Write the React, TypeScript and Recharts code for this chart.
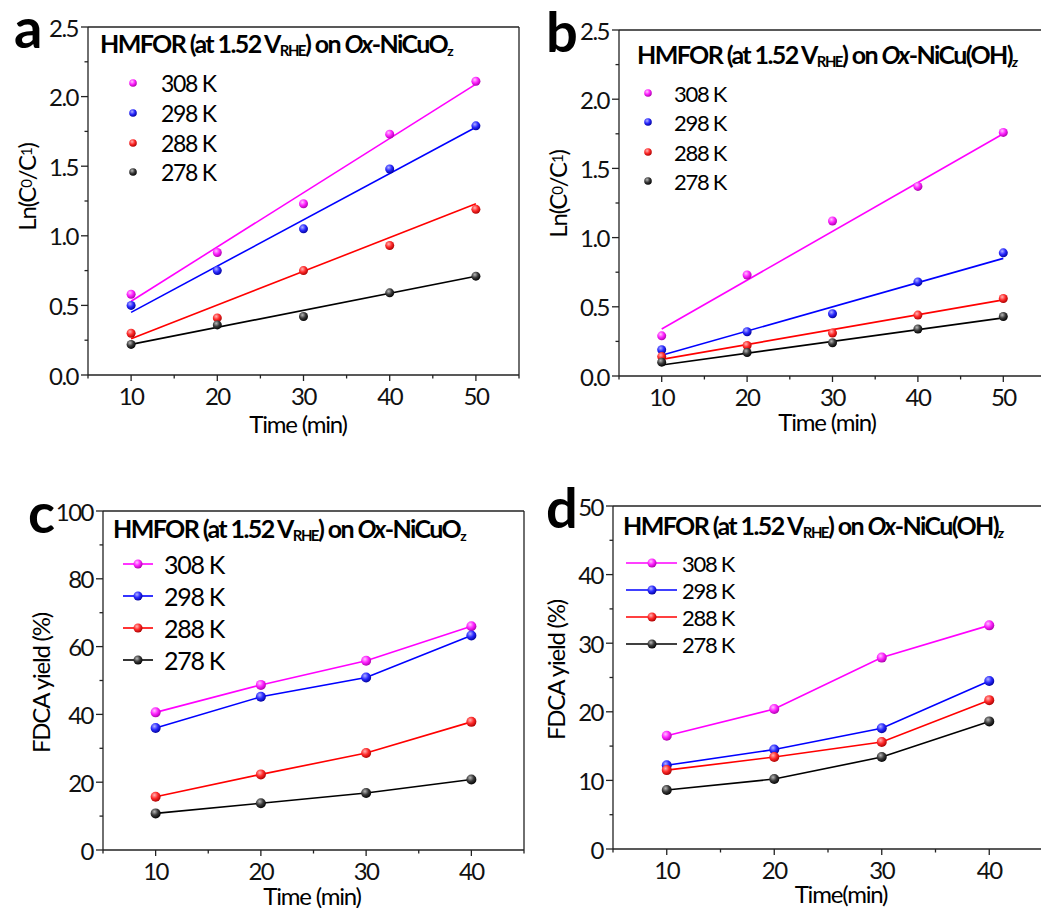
import React from 'react';
import { ComposedChart, Line, Scatter, XAxis, YAxis, ReferenceLine } from 'recharts';

// ---- data ----
const temps = ['308 K', '298 K', '288 K', '278 K'];

// a: ln(C0/C1) on Ox-NiCuOz
const timeAB = [10, 20, 30, 40, 50];
const lnA308 = [0.58, 0.88, 1.23, 1.73, 2.11];
const lnA298 = [0.5, 0.75, 1.05, 1.48, 1.79];
const lnA288 = [0.3, 0.41, 0.75, 0.93, 1.19];
const lnA278 = [0.22, 0.36, 0.42, 0.59, 0.71];
// fitted lines, value at t = 10 and t = 50
const fitEnds = [10, 50];
const fitA308 = [0.53, 2.09];
const fitA298 = [0.45, 1.78];
const fitA288 = [0.26, 1.23];
const fitA278 = [0.22, 0.71];

// b: ln(C0/C1) on Ox-NiCu(OH)z
const lnB308 = [0.29, 0.73, 1.12, 1.37, 1.76];
const lnB298 = [0.19, 0.32, 0.45, 0.68, 0.89];
const lnB288 = [0.14, 0.22, 0.31, 0.44, 0.56];
const lnB278 = [0.1, 0.17, 0.24, 0.34, 0.43];
const fitB308 = [0.34, 1.75];
const fitB298 = [0.15, 0.85];
const fitB288 = [0.12, 0.55];
const fitB278 = [0.08, 0.42];

// c, d: FDCA yield (%)
const timeCD = [10, 20, 30, 40];
const yieldC308 = [40.6, 48.7, 55.8, 66.0];
const yieldC298 = [36.0, 45.2, 50.9, 63.3];
const yieldC288 = [15.7, 22.3, 28.6, 37.8];
const yieldC278 = [10.8, 13.8, 16.8, 20.8];
const yieldD308 = [16.5, 20.4, 27.9, 32.6];
const yieldD298 = [12.2, 14.5, 17.6, 24.5];
const yieldD288 = [11.5, 13.4, 15.6, 21.7];
const yieldD278 = [8.6, 10.2, 13.4, 18.6];

// ticks
const xTicksAB = [5, 10, 15, 20, 25, 30, 35, 40, 45, 50, 55];
const xTicksCD = [5, 10, 15, 20, 25, 30, 35, 40, 45];
const xLabelsAB = [10, 20, 30, 40, 50];
const xLabelsCD = [10, 20, 30, 40];
const yTicksAB = [0, 0.25, 0.5, 0.75, 1, 1.25, 1.5, 1.75, 2, 2.25, 2.5];
const yLabelsAB = [0, 0.5, 1, 1.5, 2, 2.5];
const yTicksC = [0, 10, 20, 30, 40, 50, 60, 70, 80, 90, 100];
const yLabelsC = [0, 20, 40, 60, 80, 100];
const yTicksD = [0, 5, 10, 15, 20, 25, 30, 35, 40, 45, 50];
const yLabelsD = [0, 10, 20, 30, 40, 50];

// ---- styling ----
const FONT = 'Lato, "Open Sans", sans-serif';
const AXIS = '#222';
const COLORS = ['#ff00ff', '#0000ff', '#ff0000', '#000000'];
const SHADES: Record<string, [string, string, string]> = {
  '#ff00ff': ['#ffc4ff', '#ff22ff', '#a800a8'],
  '#0000ff': ['#b0b0ff', '#2a2aff', '#00009a'],
  '#ff0000': ['#ffb4b4', '#ff2a2a', '#a80000'],
  '#000000': ['#b8b8b8', '#3a3a3a', '#000000'],
};

const toPts = (xs: number[], ys: number[]) => xs.map((x, i) => ({ x, y: ys[i] }));

const Ball = ({ cx, cy, r, color }: { cx: number; cy: number; r: number; color: string }) => {
  const id = 'ball' + color.slice(1);
  const [hi, mid, dark] = SHADES[color];
  return (
    <g>
      <defs>
        <radialGradient id={id} cx="0.38" cy="0.33" r="0.7">
          <stop offset="0" stopColor={hi} />
          <stop offset="0.5" stopColor={mid} />
          <stop offset="1" stopColor={dark} />
        </radialGradient>
      </defs>
      <circle cx={cx} cy={cy} r={r} fill={`url(#${id})`} />
    </g>
  );
};

const makeXTick = (labels: number[]) => (props: any) => {
  const { x, y, payload } = props;
  const major = labels.includes(payload.value);
  return (
    <g>
      <line x1={x} x2={x} y1={y} y2={y + (major ? 6 : 3.5)} stroke={AXIS} strokeWidth={1.3} />
      {major && (
        <text x={x} y={y + 20} textAnchor="middle" dominantBaseline="central" fontFamily={FONT}
          fontSize={24} letterSpacing={-1.5} fill="#111">
          {payload.value}
        </text>
      )}
    </g>
  );
};

const makeYTick = (labels: number[], fmt: (v: number) => string) => (props: any) => {
  const { x, y, payload } = props;
  const major = labels.includes(payload.value);
  return (
    <g>
      <line x1={x} x2={x - (major ? 7 : 3.5)} y1={y} y2={y} stroke={AXIS} strokeWidth={1.3} />
      {major && (
        <text x={x - 10} y={y} textAnchor="end" dominantBaseline="central" fontFamily={FONT}
          fontSize={24} letterSpacing={-1.5} fill="#111">
          {fmt(payload.value)}
        </text>
      )}
    </g>
  );
};

interface Series { name: string; color: string; pts: { x: number; y: number }[]; fit?: { x: number; y: number }[] }

interface PanelProps {
  left: number; top: number; width: number; height: number;
  margin: { top: number; right: number; bottom: number; left: number };
  xDomain: [number, number]; xTicks: number[]; xLabels: number[];
  yDomain: [number, number]; yTicks: number[]; yLabels: number[]; fmtY: (v: number) => string;
  series: Series[]; connected: boolean; r: number;
}

const Panel = (p: PanelProps) => (
  <div style={{ position: 'absolute', left: p.left, top: p.top }}>
    <ComposedChart width={p.width} height={p.height} margin={p.margin}>
      <XAxis type="number" dataKey="x" domain={p.xDomain} ticks={p.xTicks} interval={0} allowDataOverflow
        height={40} tickSize={0} tickMargin={0} tickLine={false} tick={makeXTick(p.xLabels)}
        axisLine={{ stroke: AXIS, strokeWidth: 1.3 }} />
      <YAxis type="number" dataKey="y" domain={p.yDomain} ticks={p.yTicks} interval={0} allowDataOverflow
        width={60} tickSize={0} tickMargin={0} tickLine={false} tick={makeYTick(p.yLabels, p.fmtY)}
        axisLine={{ stroke: AXIS, strokeWidth: 1.3 }} />
      <ReferenceLine y={p.yDomain[1]} stroke={AXIS} strokeWidth={1.3} />
      <ReferenceLine x={p.xDomain[1]} stroke={AXIS} strokeWidth={1.3} />
      {p.series.map((s) =>
        s.fit ? (
          <Line key={s.name + '-fit'} data={s.fit} dataKey="y" type="linear" stroke={s.color}
            strokeWidth={1.6} dot={false} activeDot={false} isAnimationActive={false} />
        ) : null
      )}
      {p.connected
        ? p.series.map((s) => (
            <Line key={s.name} data={s.pts} dataKey="y" type="linear" stroke={s.color} strokeWidth={1.6}
              activeDot={false} isAnimationActive={false}
              dot={(d: any) => <Ball key={s.name + d.index} cx={d.cx} cy={d.cy} r={p.r} color={s.color} />} />
          ))
        : p.series.map((s) => (
            <Scatter key={s.name} data={s.pts} dataKey="y" isAnimationActive={false}
              shape={(d: any) => <Ball cx={d.cx} cy={d.cy} r={p.r} color={s.color} />} />
          ))}
    </ComposedChart>
  </div>
);

const mkSeries = (xs: number[], ys: number[][], fits?: number[][]): Series[] =>
  temps.map((name, i) => ({
    name,
    color: COLORS[i],
    pts: toPts(xs, ys[i]),
    fit: fits ? toPts(fitEnds, fits[i]) : undefined,
  }));

const seriesA = mkSeries(timeAB, [lnA308, lnA298, lnA288, lnA278], [fitA308, fitA298, fitA288, fitA278]);
const seriesB = mkSeries(timeAB, [lnB308, lnB298, lnB288, lnB278], [fitB308, fitB298, fitB288, fitB278]);
const seriesC = mkSeries(timeCD, [yieldC308, yieldC298, yieldC288, yieldC278]);
const seriesD = mkSeries(timeCD, [yieldD308, yieldD298, yieldD288, yieldD278]);

const fmt1 = (v: number) => v.toFixed(1);
const fmt0 = (v: number) => String(v);

const Title = ({ x, y, oh }: { x: number; y: number; oh: boolean }) => (
  <text x={x} y={y} fontFamily={FONT} fontSize={25} fontWeight={700} letterSpacing={-1.6} fill="#000">
    HMFOR (at 1.52 V<tspan fontSize={15} dy={3}>RHE</tspan>
    <tspan dy={-3}>) on </tspan>
    <tspan fontStyle="italic">Ox</tspan>
    <tspan>{oh ? '-NiCu(OH)' : '-NiCuO'}</tspan>
    <tspan fontSize={14} dy={3} fontStyle={oh ? 'italic' : 'normal'}>z</tspan>
  </text>
);

const Legend = ({ ballX, textX, rows, r, size, line }: { ballX: number; textX: number; rows: number[]; r: number; size: number; line?: [number, number] }) => (
  <g>
    {temps.map((t, i) => (
      <g key={t}>
        {line && <line x1={line[0]} x2={line[1]} y1={rows[i]} y2={rows[i]} stroke={COLORS[i]} strokeWidth={1.6} />}
        <Ball cx={ballX} cy={rows[i]} r={r} color={COLORS[i]} />
        <text x={textX} y={rows[i]} dominantBaseline="central" fontFamily={FONT} fontSize={size}
          letterSpacing={-1.3} fill="#000">{t}</text>
      </g>
    ))}
  </g>
);

const LnLabel = ({ x, y }: { x: number; y: number }) => (
  <text transform={`translate(${x},${y}) rotate(-90)`} textAnchor="middle" dominantBaseline="central"
    fontFamily={FONT} fontSize={24} letterSpacing={-1.2} fill="#000">
    Ln(C<tspan fontSize={15}>0</tspan>/C<tspan fontSize={15}>1</tspan>)
  </text>
);

const AxisText = ({ x, y, text, rotate }: { x: number; y: number; text: string; rotate?: boolean }) => (
  <text transform={`translate(${x},${y})${rotate ? ' rotate(-90)' : ''}`} textAnchor="middle"
    dominantBaseline="central" fontFamily={FONT} fontSize={24} letterSpacing={-1.2} fill="#000">
    {text}
  </text>
);

const Letter = ({ x, y, t }: { x: number; y: number; t: string }) => (
  <text x={x} y={y} fontFamily={FONT} fontSize={56} fontWeight={700} fill="#000">{t}</text>
);

export default function App() {
  return (
    <div style={{ position: 'absolute', left: 0, top: 0, width: 1041, height: 908, overflow: 'hidden', background: '#fff' }}>
      <Panel left={0} top={0} width={520} height={440} margin={{ top: 27, right: 1, bottom: 25, left: 28 }}
        xDomain={[5, 55]} xTicks={xTicksAB} xLabels={xLabelsAB}
        yDomain={[0, 2.5]} yTicks={yTicksAB} yLabels={yLabelsAB} fmtY={fmt1}
        series={seriesA} connected={false} r={4.5} />
      <Panel left={520} top={0} width={530} height={440} margin={{ top: 30, right: 4, bottom: 24, left: 39 }}
        xDomain={[5, 55]} xTicks={xTicksAB} xLabels={xLabelsAB}
        yDomain={[0, 2.5]} yTicks={yTicksAB} yLabels={yLabelsAB} fmtY={fmt1}
        series={seriesB} connected={false} r={4.5} />
      <Panel left={0} top={470} width={526} height={438} margin={{ top: 41, right: 2, bottom: 18, left: 43 }}
        xDomain={[5, 45]} xTicks={xTicksCD} xLabels={xLabelsCD}
        yDomain={[0, 100]} yTicks={yTicksC} yLabels={yLabelsC} fmtY={fmt0}
        series={seriesC} connected r={5} />
      <Panel left={520} top={470} width={530} height={438} margin={{ top: 36, right: 7, bottom: 19, left: 33 }}
        xDomain={[5, 45]} xTicks={xTicksCD} xLabels={xLabelsCD}
        yDomain={[0, 50]} yTicks={yTicksD} yLabels={yLabelsD} fmtY={fmt0}
        series={seriesD} connected r={5} />

      <svg width={1041} height={908} style={{ position: 'absolute', left: 0, top: 0, pointerEvents: 'none' }}>
        <Letter x={14} y={48} t="a" />
        <Letter x={546} y={52} t="b" />
        <Letter x={28} y={533} t="c" />
        <Letter x={546} y={528} t="d" />

        <Title x={100} y={53} oh={false} />
        <Title x={637} y={64} oh />
        <Title x={113} y={538} oh={false} />
        <Title x={623} y={535} oh />

        <Legend ballX={133} textX={161} rows={[83, 113, 143, 172]} r={3.8} size={23} />
        <Legend ballX={648} textX={674} rows={[93, 122, 152, 181]} r={3.8} size={22} />
        <Legend ballX={138} textX={164} rows={[564, 596, 628, 660]} r={4.5} size={25} line={[123, 153]} />
        <Legend ballX={652} textX={682} rows={[563, 590, 617, 644]} r={4.5} size={22} line={[626, 677]} />

        <LnLabel x={26} y={187} />
        <LnLabel x={557} y={194} />
        <AxisText x={40} y={683} text="FDCA yield (%)" rotate />
        <AxisText x={555} y={670} text="FDCA yield (%)" rotate />

        <AxisText x={298} y={423} text="Time (min)" />
        <AxisText x={827} y={421} text="Time (min)" />
        <AxisText x={312} y={895} text="Time (min)" />
        <AxisText x={841} y={893} text="Time(min)" />
      </svg>
    </div>
  );
}
